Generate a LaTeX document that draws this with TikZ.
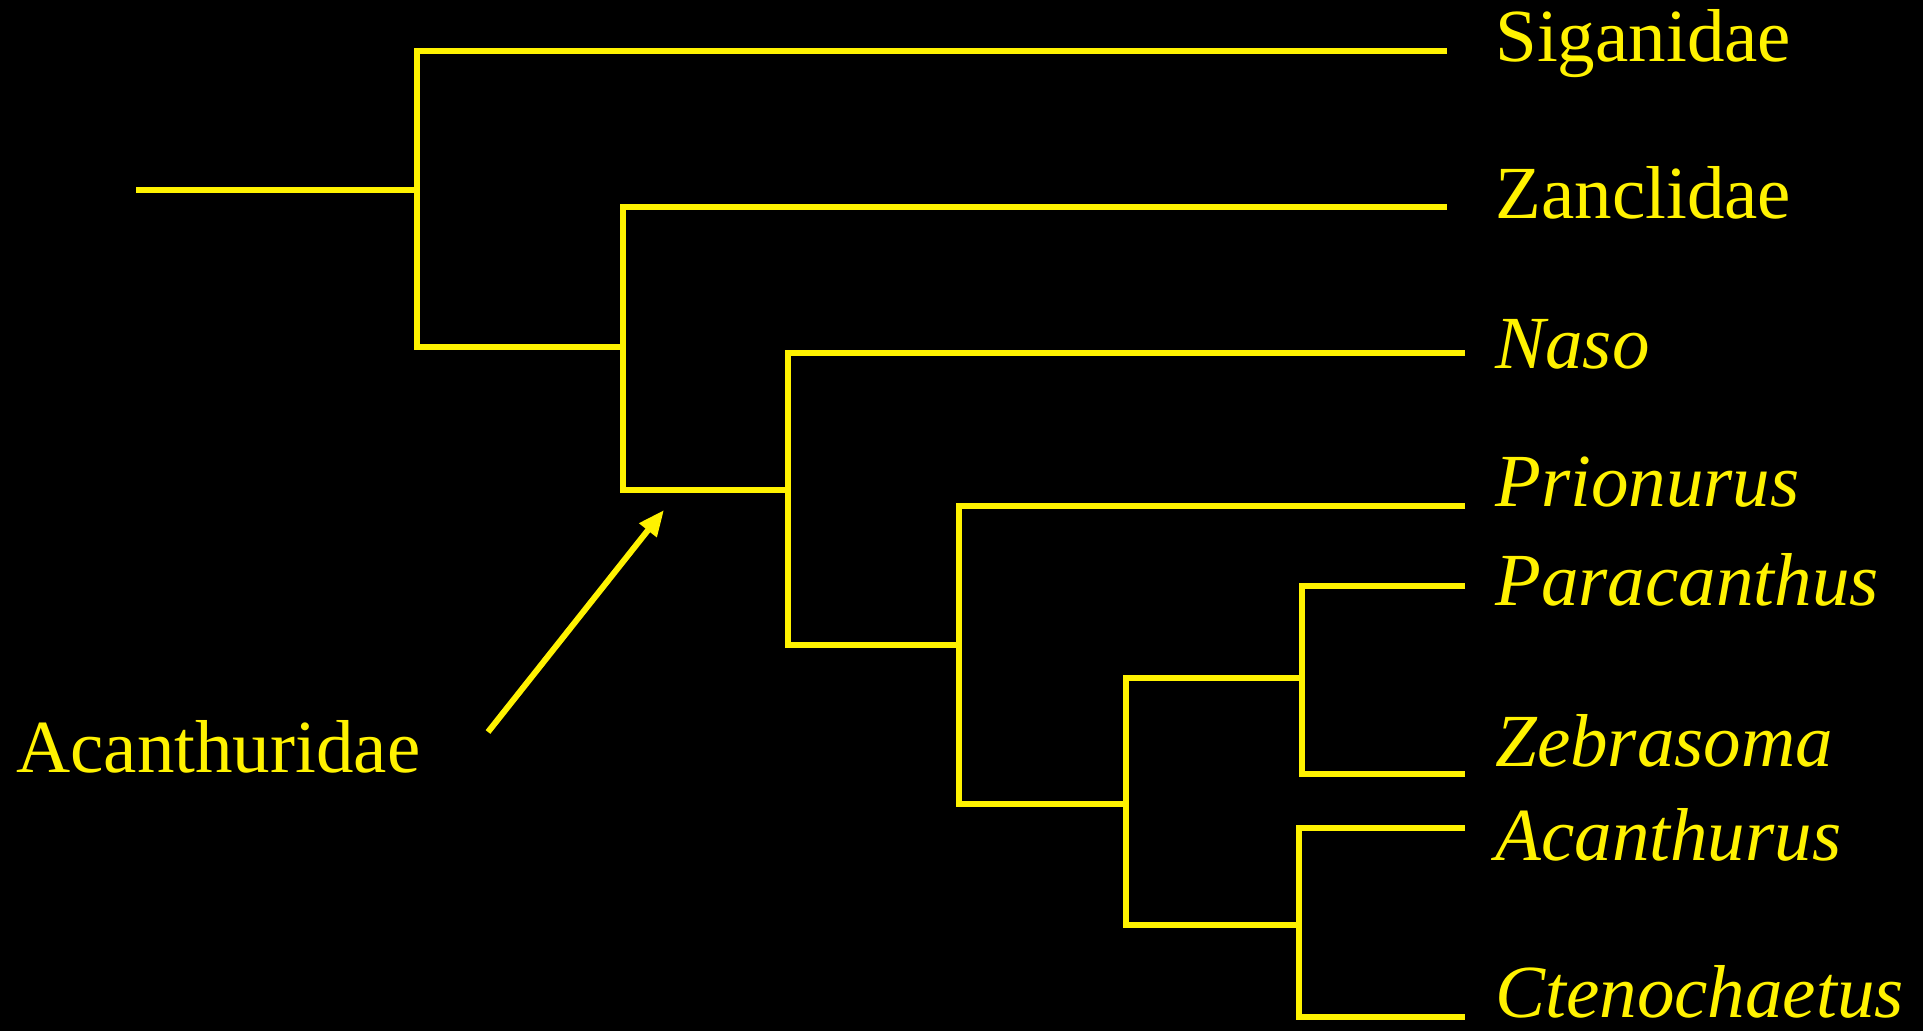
\documentclass[tikz,border=0pt]{standalone}
\usepackage{fontspec}
\setmainfont{Liberation Serif}
\usepackage{tikz}
\usetikzlibrary{arrows.meta, positioning}

\begin{document}
\begin{tikzpicture}[
  x=0.5pt, y=-0.5pt,
  branch/.style={draw=yellow, line width=3pt, line join=miter},
  pointer/.style={draw=yellow, line width=3pt, -{Triangle[length=13pt,width=10.5pt]}},
  taxon/.style={text=yellow, inner sep=0pt, anchor=base west, font=\fontsize{37.5}{40}\selectfont},
  genus/.style={taxon, font=\fontsize{37.5}{40}\selectfont\itshape}
]
% Background and page size
\fill[black] (0,0) rectangle (1923,1031);
\useasboundingbox (0,0) rectangle (1923,1031);

% Branch tips
\coordinate (sig)  at (1447,51);
\coordinate (zan)  at (1447,207);
\coordinate (naso) at (1465,353);
\coordinate (prio) at (1465,506);
\coordinate (para) at (1465,586);
\coordinate (zeb)  at (1465,774);
\coordinate (acan) at (1465,828);
\coordinate (cten) at (1465,1017);

% Internal nodes
\coordinate (root) at (136,190);
\coordinate (n1) at (417,190);
\coordinate (n2) at (623,347);
\coordinate (n3) at (788,490);
\coordinate (n4) at (959,645);
\coordinate (n5) at (1126,804);
\coordinate (n6) at (1302,678);
\coordinate (n7) at (1299,925);

% Tree
\draw[branch] (root) -- (n1);
\draw[branch] (sig) -| (n1) |- (n2);
\draw[branch] (zan) -| (n2) |- (n3);
\draw[branch] (naso) -| (n3) |- (n4);
\draw[branch] (prio) -| (n4) |- (n5);
\draw[branch] (n6) -| (n5) |- (n7);
\draw[branch] (para) -| (n6) |- (zeb);
\draw[branch] (acan) -| (n7) |- (cten);

% Taxon labels
\node[taxon] (siglabel) at (1495,62) {Siganidae};
\node[taxon] (zanlabel) at (1495,219) {Zanclidae};
\node[genus] (nasolabel) at (1495,369) {Naso};
\node[genus] (priolabel) at (1495,507) {Prionurus};
\node[genus] (paralabel) at (1495,606) {Paracanthus};
\node[genus] (zeblabel) at (1495,766) {Zebrasoma};
\node[genus] (acanlabel) at (1495,860) {Acanthurus};
\node[genus] (ctenlabel) at (1495,1017) {Ctenochaetus};

% Family label with arrow
\node[taxon] (family) at (16,772) {Acanthuridae};
\coordinate (tail) at (488,732);
\coordinate (tip) at (664,510);
\draw[pointer] (tail) -- (tip);
\end{tikzpicture}
\end{document}
